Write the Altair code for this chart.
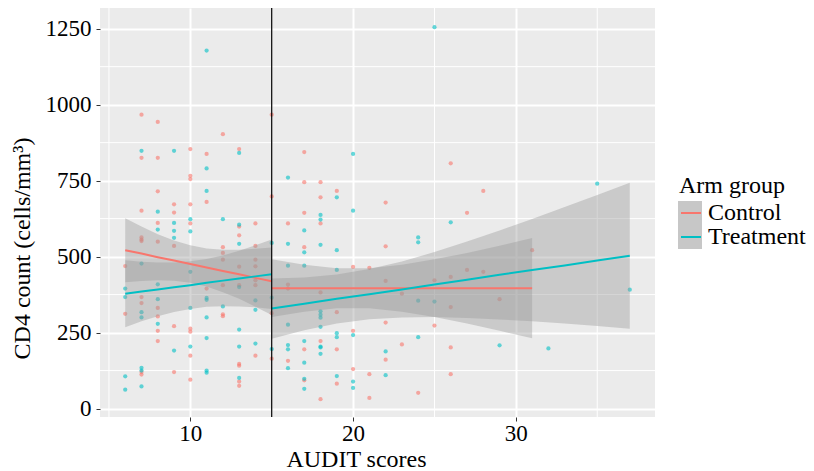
import altair as alt
import pandas as pd

# ---- scatter points ----
ctrl_x = [7, 8, 12, 7, 8, 10, 11, 13, 10, 10, 8, 11, 9, 10, 7, 9, 8, 10, 13, 14,
          7, 7, 7, 8, 9, 13, 12, 14, 12, 12, 6, 14, 14, 13, 12, 13, 14, 14, 11, 7,
          7, 8, 12, 12, 6, 8, 9, 8, 8, 10, 10, 10, 14, 13, 13, 7, 7, 9, 10, 13,
          13, 15, 17, 26, 17, 18, 19, 18, 15, 22, 17, 27, 28, 18, 16, 17, 22, 20, 21, 22,
          16, 16, 15, 18, 23, 25, 26, 26, 19, 22, 25, 20, 23, 26, 17, 18, 19, 15, 22, 16,
          20, 21, 26, 17, 19, 18, 21, 24, 31, 27, 28, 29]
ctrl_y = [967, 943, 903, 825, 825, 854, 838, 854, 766, 755, 715, 680, 672, 672, 651, 645, 611, 609, 599, 609,
          563, 556, 551, 549, 535, 570, 531, 535, 512, 490, 469, 490, 468, 467, 406, 406, 406, 422, 395, 367,
          347, 331, 310, 304, 312, 303, 271, 256, 222, 263, 253, 174, 174, 147, 141, 120, 112, 120, 95, 89,
          75, 967, 844, 807, 745, 745, 716, 695, 698, 678, 644, 644, 716, 609, 609, 531, 534, 466, 463, 420,
          408, 395, 314, 382, 378, 422, 433, 334, 317, 283, 273, 256, 211, 201, 195, 222, 195, 164, 161, 157,
          130, 113, 113, 93, 82, 31, 35, 52, 521, 456, 450, 360]

trt_x = [11, 7, 9, 13, 11, 11, 8, 10, 12, 9, 13, 8, 9, 10, 9, 13, 7, 10, 13, 6,
         6, 8, 8, 11, 11, 10, 12, 14, 14, 7, 7, 11, 8, 13, 11, 9, 10, 13, 14, 7,
         7, 11, 11, 6, 13, 7, 6, 25, 20, 16, 19, 18, 20, 18, 26, 35, 17, 16, 17, 18,
         19, 24, 24, 15, 16, 17, 19, 15, 24, 25, 18, 18, 18, 16, 18, 20, 19, 19, 24, 16,
         16, 17, 18, 18, 18, 15, 22, 16, 17, 22, 17, 17, 19, 20, 20, 37, 29, 32]
trt_y = [1178, 848, 848, 841, 790, 716, 648, 623, 623, 611, 605, 589, 585, 583, 562, 542, 477, 450, 400, 395,
         367, 409, 360, 364, 358, 331, 336, 356, 325, 317, 300, 300, 279, 260, 232, 191, 204, 204, 214, 134,
         125, 125, 118, 106, 101, 73, 62, 1255, 838, 760, 695, 637, 651, 622, 613, 740, 586, 542, 514, 539,
         521, 563, 547, 545, 470, 470, 456, 365, 355, 352, 320, 309, 299, 276, 269, 242, 248, 235, 235, 209,
         195, 222, 204, 201, 180, 196, 188, 133, 151, 110, 98, 65, 107, 89, 68, 391, 208, 198]

# ---- fitted lines and confidence bands ----
cl_x = [6, 7, 8, 9, 10, 11, 12, 13, 14, 15]
cl_fit = [521, 510, 498, 487, 476, 464, 453, 442, 430, 419]
cl_lo = [416, 420, 422, 421, 414, 402, 383, 361, 335, 308]
cl_hi = [626, 599, 574, 553, 537, 527, 523, 523, 526, 530]

tl_x = [6, 7, 8, 9, 10, 11, 12, 13, 14, 15]
tl_fit = [378, 385, 392, 399, 406, 414, 421, 428, 435, 442]
tl_lo = [268, 287, 304, 318, 328, 335, 337, 336, 333, 328]
tl_hi = [488, 483, 481, 481, 485, 492, 504, 519, 537, 556]

cr_x = [15, 17, 19, 21, 23, 25, 27, 29, 31]
cr_fit = [396, 396, 396, 396, 396, 396, 396, 396, 396]
cr_lo = [301, 319, 330, 330, 319, 301, 280, 256, 231]
cr_hi = [491, 473, 462, 462, 473, 491, 512, 536, 561]

tr_x = [15, 17, 19, 21, 23, 25, 27, 29, 31, 33, 35, 37]
tr_fit = [329, 345, 361, 376, 392, 408, 424, 440, 456, 471, 487, 503]
tr_lo = [230, 258, 280, 294, 300, 301, 298, 293, 287, 280, 272, 263]
tr_hi = [428, 431, 441, 459, 484, 515, 550, 586, 624, 663, 703, 743]

arms = ["Control", "Treatment"]
band_keys = ["k1", "k2"]
colors = ["#F8766D", "#00BFC4"]
minor_x = [5, 15, 25, 35]
minor_y = [125, 375, 625, 875, 1125]
vline_x = [15]
x_ticks = [10, 20, 30]
y_ticks = [0, 250, 500, 750, 1000, 1250]

pts = pd.DataFrame({
    "x": ctrl_x + trt_x,
    "y": ctrl_y + trt_y,
    "arm": ["Control"] * len(ctrl_x) + ["Treatment"] * len(trt_x),
})

rows = []
for arm, key, seg, xs, fit, lo, hi in [
    ("Control", "k1", "L", cl_x, cl_fit, cl_lo, cl_hi),
    ("Treatment", "k2", "L", tl_x, tl_fit, tl_lo, tl_hi),
    ("Control", "k1", "R", cr_x, cr_fit, cr_lo, cr_hi),
    ("Treatment", "k2", "R", tr_x, tr_fit, tr_lo, tr_hi),
]:
    for a, b, c, d in zip(xs, fit, lo, hi):
        rows.append({"x": a, "fit": b, "lo": c, "hi": d, "arm": arm, "key": key, "seg": seg})
fits = pd.DataFrame(rows)

FONT = "Liberation Serif"
xscale = alt.Scale(domain=[4.45, 38.55], nice=False, zero=False)
yscale = alt.Scale(domain=[-27.7, 1318], nice=False, zero=False)
xaxis = alt.Axis(values=x_ticks, title="AUDIT scores", titleX=256, titleY=42,
                 titleBaseline="middle", labelPadding=1, format="d")
yaxis = alt.Axis(values=y_ticks, title="CD4 count (cells/mm³)", titleX=-78, titleY=240,
                 titleBaseline="middle", labelPadding=5, format="d")


def X(field):
    return alt.X(field, type="quantitative", scale=xscale, axis=xaxis)


def Y(field):
    return alt.Y(field, type="quantitative", scale=yscale, axis=yaxis)


minor_v = alt.Chart(pd.DataFrame({"x": minor_x})).mark_rule(color="white", strokeWidth=1).encode(x=X("x"))
minor_h = alt.Chart(pd.DataFrame({"y": minor_y})).mark_rule(color="white", strokeWidth=1).encode(y=Y("y"))

points = alt.Chart(pts).mark_circle(size=18, opacity=0.6).encode(
    x=X("x"), y=Y("y"),
    color=alt.Color("arm:N", scale=alt.Scale(domain=arms, range=colors), legend=None),
)

bands = alt.Chart(fits).mark_area(fillOpacity=0.4).encode(
    x=X("x"), y=Y("lo"), y2="hi",
    fill=alt.Fill("key:N", scale=alt.Scale(domain=band_keys, range=["#999999", "#999999"]),
                  legend=alt.Legend(orient="none", legendX=578, legendY=193, title=None,
                                    labelExpr="''", labelFontSize=1, labelFont=FONT,
                                    symbolType="square", symbolSize=576, symbolOpacity=0.55,
                                    symbolStrokeWidth=0, rowPadding=0, padding=0, zindex=0)),
    detail="seg:N",
)

lines = alt.Chart(fits).mark_line(strokeWidth=2).encode(
    x=X("x"), y=Y("fit"),
    stroke=alt.Stroke("arm:N", scale=alt.Scale(domain=arms, range=colors),
                      legend=alt.Legend(orient="none", legendX=579, legendY=166, title="Arm group",
                                        titleFont=FONT, titleFontSize=24, titleFontWeight="normal",
                                        titleColor="black", titlePadding=3,
                                        labelFont=FONT, labelFontSize=24, labelColor="black",
                                        labelOffset=5, symbolType="stroke", symbolSize=400,
                                        symbolStrokeWidth=2, rowPadding=0, padding=0, zindex=1)),
    detail="seg:N",
)

vline = alt.Chart(pd.DataFrame({"x": vline_x})).mark_rule(color="black", strokeWidth=1.2).encode(x=X("x"))

chart = alt.layer(minor_v, minor_h, points, bands, lines, vline).resolve_legend(
    fill="independent", stroke="independent"
).properties(
    width=555, height=409, autosize="none",
    padding={"left": 92, "top": 0, "right": 151, "bottom": 54},
).configure_view(fill="#EBEBEB", stroke=None).configure_axis(
    grid=True, gridColor="white", gridWidth=2, domain=False,
    tickColor="#333333", tickSize=4, tickWidth=1,
    labelFont=FONT, labelFontSize=23, labelColor="black",
    titleFont=FONT, titleFontSize=24, titleFontWeight="normal", titleColor="black",
)

chart.save("out.html", embed_options={"renderer": "svg", "actions": False})
